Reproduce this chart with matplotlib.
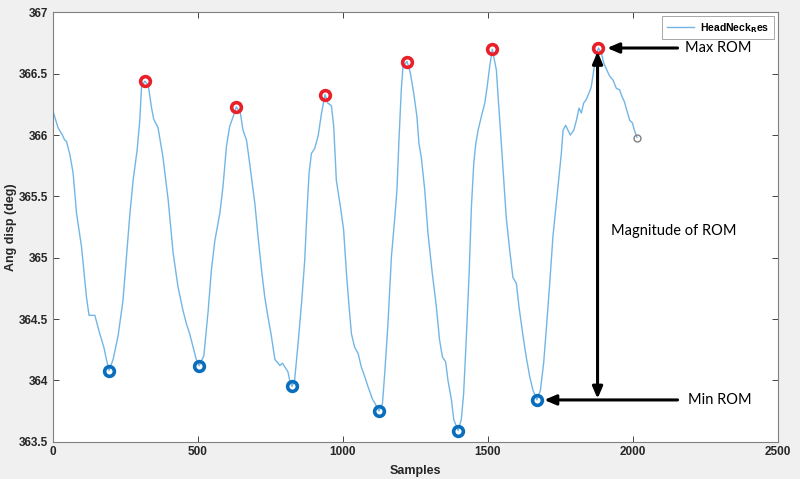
import matplotlib
matplotlib.use("Agg")
import matplotlib.pyplot as plt
import numpy as np

# ---- data ----
samples = [0, 18, 33, 41, 47, 59, 70, 82, 99, 116, 125, 145, 162, 176, 185, 194,
           208, 225, 242, 254, 266, 277, 291, 300, 306, 317, 329, 340, 348, 363,
           380, 398, 415, 432, 449, 461, 472, 484, 495, 505, 521, 536, 547, 559,
           576, 587, 599, 610, 622, 633, 647, 656, 668, 679, 697, 708, 720, 731,
           742, 754, 766, 777, 783, 792, 800, 811, 817, 825, 834, 846, 858, 869,
           877, 884, 892, 903, 915, 927, 939, 949, 961, 969, 978, 993, 1003, 1013,
           1022, 1030, 1041, 1053, 1064, 1076, 1087, 1102, 1114, 1125, 1137, 1145,
           1156, 1168, 1179, 1187, 1194, 1202, 1208, 1222, 1233, 1245, 1256, 1263,
           1271, 1283, 1294, 1309, 1323, 1334, 1344, 1355, 1363, 1375, 1383, 1398,
           1409, 1417, 1426, 1436, 1444, 1452, 1459, 1467, 1478, 1490, 1498, 1507,
           1516, 1530, 1536, 1544, 1553, 1564, 1576, 1587, 1599, 1608, 1622, 1633,
           1645, 1656, 1670, 1682, 1693, 1702, 1714, 1725, 1739, 1754, 1760, 1769,
           1777, 1785, 1797, 1806, 1815, 1823, 1831, 1840, 1849, 1857, 1866, 1874,
           1882, 1892, 1900, 1909, 1921, 1932, 1944, 1955, 1964, 1972, 1980, 1990,
           1999, 2006, 2015]
ang_disp = [366.20, 366.06, 366.00, 365.96, 365.95, 365.84, 365.69, 365.36, 365.09,
            364.68, 364.53, 364.53, 364.38, 364.27, 364.17, 364.08,
            364.17, 364.36, 364.65, 365.01, 365.36, 365.63, 365.88, 366.12, 366.39,
            366.44, 366.41, 366.23, 366.13, 366.06,
            365.82, 365.47, 365.04, 364.76, 364.57, 364.46, 364.38, 364.27, 364.17,
            364.12, 364.20, 364.57, 364.90, 365.14,
            365.36, 365.58, 365.91, 366.07, 366.15, 366.23, 366.18, 366.04, 365.96,
            365.77, 365.44, 365.17, 364.90, 364.68,
            364.52, 364.36, 364.17, 364.14, 364.12, 364.14, 364.11, 364.07, 364.00,
            363.95, 364.00, 364.30, 364.63, 364.98,
            365.39, 365.69, 365.85, 365.89, 365.99, 366.18, 366.33, 366.26, 366.24,
            366.07, 365.63, 365.40, 365.23, 364.87,
            364.60, 364.38, 364.27, 364.22, 364.11, 364.03, 363.95, 363.85, 363.80,
            363.75, 363.81, 364.06,
            364.46, 365.01, 365.31, 365.55, 365.96, 366.37, 366.56, 366.60, 366.51,
            366.34, 366.15, 365.93,
            365.82, 365.55, 365.20, 364.87, 364.60, 364.33, 364.19, 364.15, 364.00,
            363.84, 363.68, 363.59,
            363.68, 363.89, 364.33, 364.87, 365.42, 365.77, 365.93, 366.04, 366.15,
            366.26, 366.39, 366.56,
            366.70, 366.53, 366.31, 366.04, 365.72, 365.33, 365.06, 364.84, 364.79,
            364.60, 364.36, 364.19,
            364.03, 363.92, 363.84, 363.92, 364.14, 364.41, 364.79, 365.17, 365.50,
            365.85, 366.04, 366.08,
            366.04, 366.00, 366.04, 366.12, 366.22, 366.18, 366.26, 366.29, 366.34,
            366.39, 366.53, 366.64,
            366.71, 366.67, 366.59, 366.54, 366.48, 366.45, 366.38, 366.37, 366.31,
            366.27, 366.20, 366.12,
            366.10, 366.04, 365.98]

peak_x = [317, 633, 939, 1222, 1516, 1882]
peak_y = [366.44, 366.23, 366.33, 366.60, 366.70, 366.71]
trough_x = [194, 505, 825, 1125, 1398, 1670]
trough_y = [364.08, 364.12, 363.95, 363.75, 363.59, 363.84]
end_x = [2015]
end_y = [365.98]

xticks = [0, 500, 1000, 1500, 2000, 2500]
yticks = [363.5, 364, 364.5, 365, 365.5, 366, 366.5, 367]
ytick_labels = ['363.5', '364', '364.5', '365', '365.5', '366', '366.5', '367']

# ---- plot ----
fig = plt.figure(figsize=(8.0, 4.79), dpi=100, facecolor='#f0f0f0')
ax = fig.add_axes([0.066, 0.078, 0.906, 0.896])
ax.set_facecolor('white')

line_color = '#72b6e6'
ax.plot(samples, ang_disp, color=line_color, lw=1.0, label='HeadNeck$_{\\mathbf{R}}$es')
ax.plot(peak_x, peak_y, 'o', ms=7, mfc='none', mec='#e8202a', mew=2.6)
ax.plot(trough_x, trough_y, 'o', ms=7, mfc='none', mec='#0a6ebd', mew=2.6)
ax.plot(end_x, end_y, 'o', ms=5, mfc='none', mec='#808080', mew=1.0)

ax.set_xlim(0, 2500)
ax.set_ylim(363.5, 367)
ax.set_xticks(xticks)
ax.set_yticks(yticks)
ax.set_yticklabels(ytick_labels)
ax.tick_params(direction='in', top=True, right=True, length=4, width=0.6,
               colors='#262626', labelsize=8.5)
for lab in ax.get_xticklabels() + ax.get_yticklabels():
    lab.set_fontweight('bold')
    lab.set_family('Liberation Sans')
for sp in ax.spines.values():
    sp.set_color('#808080')
    sp.set_linewidth(0.8)

ax.set_xlabel('Samples', fontsize=9, fontweight='bold', family='Liberation Sans',
              color='#262626', labelpad=5)
ax.set_ylabel('Ang disp (deg)', fontsize=9, fontweight='bold', family='Liberation Sans',
              color='#262626', labelpad=1)

leg = ax.legend(loc='upper right', fontsize=7.5, frameon=True, fancybox=False,
                borderaxespad=0.35, handlelength=2.6, handletextpad=0.6, borderpad=0.45)
leg.get_frame().set_edgecolor('#808080')
leg.get_frame().set_linewidth(0.6)
for t in leg.get_texts():
    t.set_fontweight('bold')
    t.set_family('Liberation Sans')

# ---- annotations ----
arrow_kw = dict(arrowstyle='-|>,head_length=0.7,head_width=0.3', color='black', lw=2.2,
                shrinkA=0, shrinkB=0)
max_x, max_y = peak_x[-1], peak_y[-1]
min_x, min_y = trough_x[-1], trough_y[-1]

ax.annotate('', xy=(max_x + 30, max_y), xytext=(2155, max_y), arrowprops=arrow_kw)
ax.text(2180, max_y, 'Max ROM', fontsize=10.5, family='Lato', va='center', ha='left')

ax.annotate('', xy=(min_x + 25, min_y), xytext=(2155, min_y), arrowprops=arrow_kw)
ax.text(2190, min_y, 'Min ROM', fontsize=10.5, family='Lato', va='center', ha='left')

ax.annotate('', xy=(max_x - 3, max_y - 0.03), xytext=(max_x - 3, min_y + 0.01),
            arrowprops=dict(arrowstyle='<|-|>,head_length=0.7,head_width=0.3', color='black',
                            lw=2.2, shrinkA=0, shrinkB=0))
ax.text(1925, 365.22, 'Magnitude of ROM', fontsize=10.5, family='Lato', va='center', ha='left')

fig.savefig('out.png', dpi=100, facecolor=fig.get_facecolor())
